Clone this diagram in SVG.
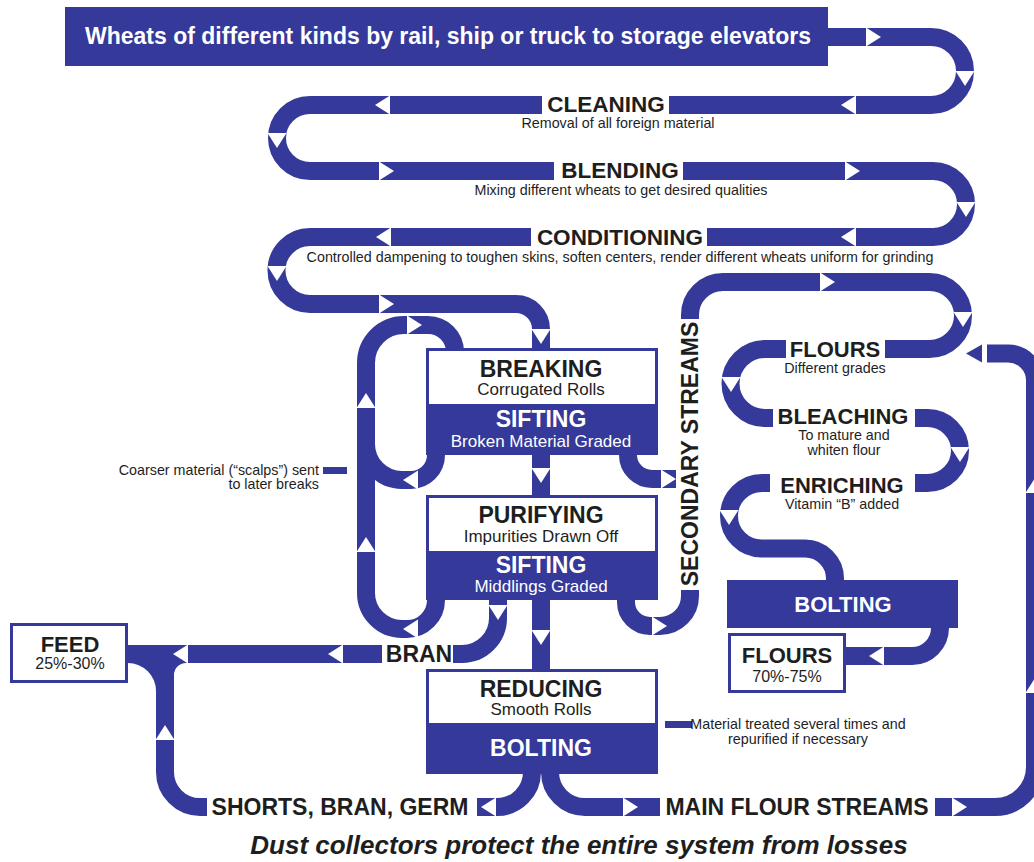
<svg xmlns="http://www.w3.org/2000/svg" xmlns:xlink="http://www.w3.org/1999/xlink" width="1034" height="862" viewBox="0 0 1034 862">
<style>
.band{fill:none;stroke:#34399a;stroke-width:18}
.blue{fill:#34399a}
.wh{fill:#ffffff}
.ar{fill:#ffffff}
.lab{font-family:"Liberation Sans",Arial,sans-serif;font-weight:bold;font-size:23px;fill:#1e1e1e;text-anchor:middle}
.labw{font-family:"Liberation Sans",Arial,sans-serif;font-weight:bold;font-size:23px;fill:#ffffff;text-anchor:middle}
.sub{font-family:"Liberation Sans",Arial,sans-serif;font-size:14.3px;fill:#1e1e1e;text-anchor:middle}
.subw{font-family:"Liberation Sans",Arial,sans-serif;font-size:17px;fill:#ffffff;text-anchor:middle}
.box{fill:#ffffff;stroke:#34399a;stroke-width:3}
</style>
<defs>
<polygon id="a" points="0,-9.5 0,9.5 15,0" class="ar"/>
</defs>
<rect width="1034" height="862" fill="#ffffff"/>
<g id="connectors">
<path class="band" d="M828 37 H931 A34 34 0 0 1 931 105 H310 A33 33 0 0 0 310 171 H933 A33 33 0 0 1 933 237 H310 A33.5 33.5 0 0 0 310 304 H516 A25 25 0 0 1 541 329 V352"/>
<path class="band" d="M436 450 V455 A25 25 0 0 1 411 480 H402 A36 36 0 0 1 366 444 V363 A38 38 0 0 1 404 325 H428 A27 27 0 0 1 455 352"/>
<path class="band" d="M436 595 V600 A29 29 0 0 1 407 629 H402 A36 36 0 0 1 366 593 V444"/>
<path class="band" d="M541 450 V500"/>
<path class="band" d="M541 595 V672"/>
<path class="band" d="M498 595 V618 A36 36 0 0 1 462 654 H453"/>
<path class="band" d="M128 654 H382"/>
<path class="band" d="M207 807 H200 A35 35 0 0 1 165 772 V654"/>
<path class="blue" d="M128 663 L156 663 L156 691 A28 28 0 0 0 128 663 Z"/>
<path class="blue" d="M174 663 L186 663 A12 12 0 0 0 174 675 Z"/>
<path class="band" d="M532 765 V772 A35 35 0 0 1 497 807 H477"/>
<path class="band" d="M550 765 V772 A35 35 0 0 0 585 807 H660"/>
<path class="band" d="M935 807 H995 A40 40 0 0 0 1035 767 V380.5 A27 27 0 0 0 1008 353.5 H987"/>
<polygon class="blue" points="966,353.5 982,344.5 982,362.5"/>
<path class="band" d="M628 450 V455 A24 24 0 0 0 652 479 H676"/>
<path class="band" d="M626 595 V602 A24 24 0 0 0 650 626 H660 A30 30 0 0 0 690 596 V590"/>
<path class="band" d="M690 319 V315 A33 33 0 0 1 723 282 H929.5 A33.5 33.5 0 0 1 929.5 349 H765 A34.5 34.5 0 0 0 765 418 H927.5 A32.5 32.5 0 0 1 927.5 483 H762 A33 33 0 0 0 729 516 A32.5 32.5 0 0 0 761.5 548.5 H805 A30 30 0 0 1 835 578.5 V585"/>
<path class="band" d="M940 620 V628 A28 28 0 0 1 912 656 H846"/>
<use xlink:href="#a" transform="translate(866,37)"/>
<use xlink:href="#a" transform="translate(965,71) rotate(90)"/>
<use xlink:href="#a" transform="translate(856,105) rotate(180)"/>
<use xlink:href="#a" transform="translate(390,105) rotate(180)"/>
<use xlink:href="#a" transform="translate(277,133) rotate(90)"/>
<use xlink:href="#a" transform="translate(379,171)"/>
<use xlink:href="#a" transform="translate(845,171)"/>
<use xlink:href="#a" transform="translate(966,202) rotate(90)"/>
<use xlink:href="#a" transform="translate(856,237) rotate(180)"/>
<use xlink:href="#a" transform="translate(391,237) rotate(180)"/>
<use xlink:href="#a" transform="translate(277,266) rotate(90)"/>
<use xlink:href="#a" transform="translate(379,304)"/>
<use xlink:href="#a" transform="translate(541,329) rotate(90)"/>
<use xlink:href="#a" transform="translate(366,408) rotate(-90)"/>
<use xlink:href="#a" transform="translate(366,552) rotate(-90)"/>
<use xlink:href="#a" transform="translate(407,325)"/>
<use xlink:href="#a" transform="translate(418,480) rotate(180)"/>
<use xlink:href="#a" transform="translate(418,629) rotate(180)"/>
<use xlink:href="#a" transform="translate(541,468) rotate(90)"/>
<use xlink:href="#a" transform="translate(541,630) rotate(90)"/>
<use xlink:href="#a" transform="translate(498,605) rotate(90)"/>
<use xlink:href="#a" transform="translate(343,654) rotate(180)"/>
<use xlink:href="#a" transform="translate(188,654) rotate(180)"/>
<use xlink:href="#a" transform="translate(165,740) rotate(-90)"/>
<use xlink:href="#a" transform="translate(496,807) rotate(180)"/>
<use xlink:href="#a" transform="translate(623,807)"/>
<use xlink:href="#a" transform="translate(952,807)"/>
<use xlink:href="#a" transform="translate(1035,493) rotate(-90)"/>
<use xlink:href="#a" transform="translate(1035,693) rotate(-90)"/>
<use xlink:href="#a" transform="translate(661,479)"/>
<use xlink:href="#a" transform="translate(652,626)"/>
<use xlink:href="#a" transform="translate(820,282)"/>
<use xlink:href="#a" transform="translate(963,312) rotate(90)"/>
<use xlink:href="#a" transform="translate(731,377) rotate(90)"/>
<use xlink:href="#a" transform="translate(960,447) rotate(90)"/>
<use xlink:href="#a" transform="translate(729,510) rotate(90)"/>
<use xlink:href="#a" transform="translate(884,656) rotate(180)"/>
</g>
<g id="title">
<rect x="65" y="7" width="763" height="59" class="blue"/>
<text x="85" y="44" style="font-family:'Liberation Sans',Arial,sans-serif;font-weight:bold;font-size:23px;fill:#ffffff">Wheats of different kinds by rail, ship or truck to storage elevators</text>
</g>
<g id="cleaning">
<rect x="542" y="95" width="127" height="20" class="wh"/>
<text x="606" y="112" class="lab" style="font-size:22.5px">CLEANING</text>
<text x="618" y="128" class="sub">Removal of all foreign material</text>
</g>
<g id="blending">
<rect x="554" y="161" width="129" height="20" class="wh"/>
<text x="620" y="178" class="lab" style="font-size:22.5px">BLENDING</text>
<text x="621" y="195" class="sub">Mixing different wheats to get desired qualities</text>
</g>
<g id="conditioning">
<rect x="531" y="227" width="176" height="20" class="wh"/>
<text x="620" y="245" class="lab" style="font-size:22.5px">CONDITIONING</text>
<text x="620" y="262" class="sub">Controlled dampening to toughen skins, soften centers, render different wheats uniform for grinding</text>
</g>
<g id="breaking">
<rect x="426" y="348" width="232" height="107" class="blue"/>
<rect x="429" y="351" width="226" height="53" class="wh"/>
<text x="541" y="377" class="lab">BREAKING</text>
<text x="541" y="395" class="sub" style="font-size:17px">Corrugated Rolls</text>
<text x="541" y="427" class="labw">SIFTING</text>
<text x="541" y="447" class="subw">Broken Material Graded</text>
</g>
<g id="purifying">
<rect x="426" y="495" width="232" height="105" class="blue"/>
<rect x="429" y="498" width="226" height="53" class="wh"/>
<text x="541" y="523" class="lab">PURIFYING</text>
<text x="541" y="542" class="sub" style="font-size:17px">Impurities Drawn Off</text>
<text x="541" y="573" class="labw">SIFTING</text>
<text x="541" y="592" class="subw">Middlings Graded</text>
</g>
<g id="reducing">
<rect x="426" y="669" width="232" height="105" class="blue"/>
<rect x="429" y="672" width="226" height="51" class="wh"/>
<text x="541" y="697" class="lab">REDUCING</text>
<text x="541" y="715" class="sub" style="font-size:17px">Smooth Rolls</text>
<text x="541" y="756" class="labw">BOLTING</text>
</g>
<g id="scalps-note">
<rect x="323" y="467" width="24" height="7" class="blue"/>
<text x="319" y="475" class="sub" style="text-anchor:end">Coarser material (“scalps”) sent</text>
<text x="319" y="489" class="sub" style="text-anchor:end">to later breaks</text>
</g>
<g id="bran">
<text x="419" y="662" class="lab">BRAN</text>
</g>
<g id="feed">
<rect x="11.5" y="624.5" width="115" height="57" class="box"/>
<text x="70" y="652" class="lab" style="font-size:22px">FEED</text>
<text x="70" y="669" class="sub" style="font-size:16px">25%-30%</text>
</g>
<g id="shorts">
<text x="340" y="815" class="lab">SHORTS, BRAN, GERM</text>
</g>
<g id="main-flour">
<text x="797" y="815" class="lab">MAIN FLOUR STREAMS</text>
</g>
<g id="repurify-note">
<rect x="665" y="721" width="27" height="7" class="blue"/>
<text x="798" y="729" class="sub">Material treated several times and</text>
<text x="798" y="744" class="sub">repurified if necessary</text>
</g>
<g id="secondary">
<text transform="translate(698,454) rotate(-90)" class="lab">SECONDARY STREAMS</text>
</g>
<g id="flours-grades">
<rect x="786" y="339" width="99" height="21" class="wh"/>
<text x="835" y="357" class="lab" style="font-size:22px">FLOURS</text>
<text x="835" y="373" class="sub">Different grades</text>
</g>
<g id="bleaching">
<rect x="773" y="408" width="142" height="20" class="wh"/>
<text x="843" y="424" class="lab" style="font-size:22px">BLEACHING</text>
<text x="844" y="440" class="sub">To mature and</text>
<text x="844" y="455" class="sub">whiten flour</text>
</g>
<g id="enriching">
<rect x="770" y="473" width="145" height="20" class="wh"/>
<text x="842" y="493" class="lab" style="font-size:22px">ENRICHING</text>
<text x="842" y="509" class="sub">Vitamin “B” added</text>
</g>
<g id="bolting">
<rect x="727" y="580" width="231" height="48" class="blue"/>
<text x="843" y="612" class="labw" style="font-size:22px">BOLTING</text>
</g>
<g id="flours-final">
<rect x="729.5" y="634.5" width="115" height="57" class="box"/>
<text x="787" y="663" class="lab" style="font-size:22px">FLOURS</text>
<text x="787" y="682" class="sub" style="font-size:16px">70%-75%</text>
</g>
<g id="footer">
<text x="579" y="854" style="font-family:'Liberation Sans',Arial,sans-serif;font-weight:bold;font-style:italic;font-size:26px;fill:#1e1e1e;text-anchor:middle">Dust collectors protect the entire system from losses</text>
</g>
</svg>
